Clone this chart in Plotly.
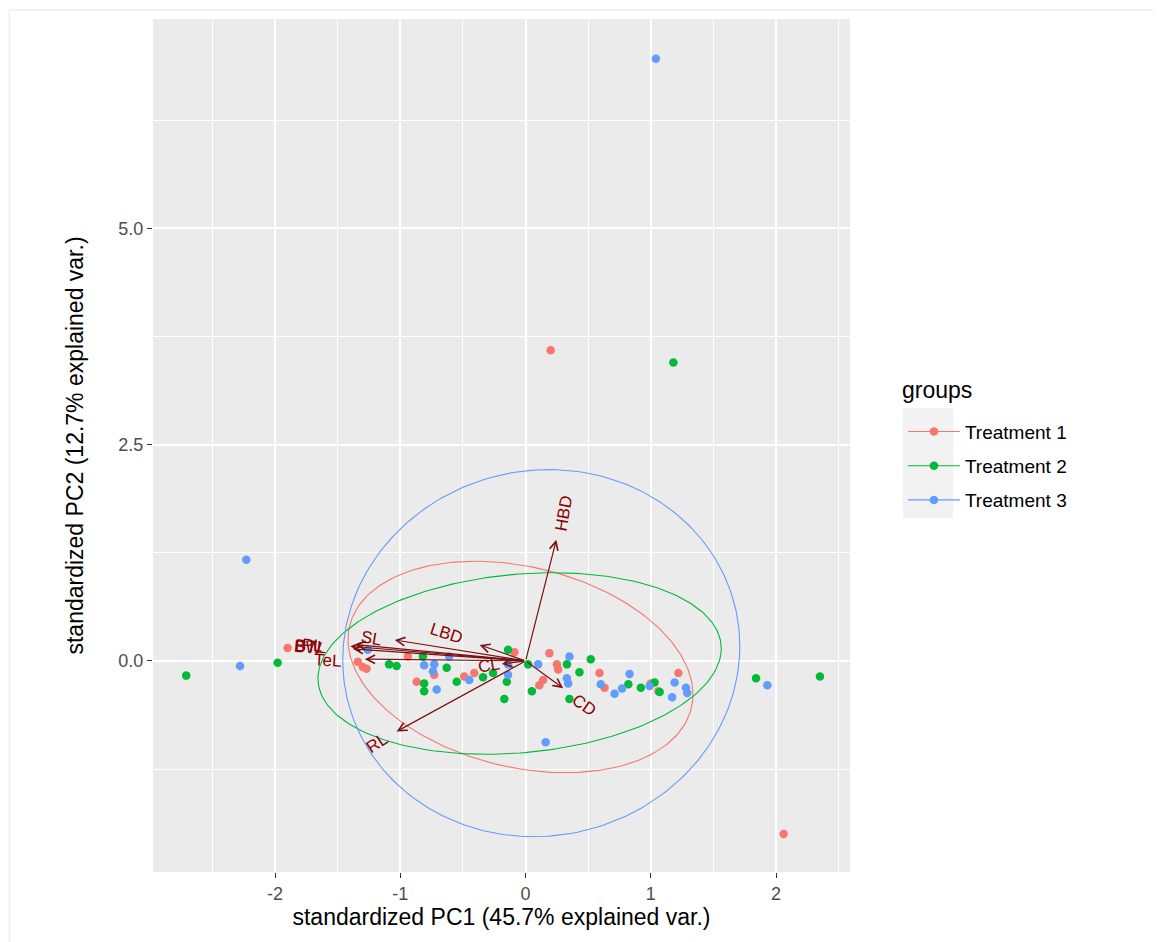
import numpy as np
import plotly.graph_objects as go

# ---------------- data ----------------
groups = ["Treatment 1", "Treatment 2", "Treatment 3"]
colors = ["#F8766D", "#00BA38", "#619CFF"]

t1_x = [0.20, 2.06, -1.90, 0.19, -0.09, -0.94, -1.34, -1.30, -1.27, -0.73, -0.87, -0.49, -0.41,
        0.25, 0.26, 0.14, 0.11, 0.59, 0.63, 1.00, 1.06, 1.22]
t1_y = [3.59, -2.00, 0.15, 0.09, 0.10, 0.05, -0.01, -0.07, -0.09, -0.16, -0.24, -0.18, -0.14,
        -0.04, -0.10, -0.22, -0.28, -0.14, -0.31, -0.26, -0.35, -0.14]

t2_x = [1.18, -2.71, -1.98, 2.35, 1.84, -0.14, -0.82, -1.09, -1.03, -0.63, -0.81, -0.81, -0.55,
        -0.34, -0.26, -0.15, -0.17, 0.02, 0.05, 0.33, 0.43, 0.52, 0.35, 0.82, 0.92, 1.03, 1.07]
t2_y = [3.45, -0.17, -0.02, -0.18, -0.20, 0.13, 0.05, -0.04, -0.06, -0.08, -0.26, -0.35, -0.24,
        -0.19, -0.14, -0.24, -0.44, -0.04, -0.35, -0.04, -0.13, 0.02, -0.44, -0.27, -0.31, -0.25, -0.36]

t3_x = [1.04, -2.23, -2.28, 1.93, 0.16, -1.26, -0.61, -0.81, -0.73, -0.74, -0.71, -0.45, -0.14,
        -0.14, 0.10, 0.35, 0.33, 0.34, 0.60, 0.71, 0.77, 0.83, 0.99, 1.17, 1.19, 1.28, 1.29]
t3_y = [6.96, 1.17, -0.06, -0.28, -0.94, 0.13, 0.05, -0.05, -0.04, -0.12, -0.33, -0.22, -0.04,
        -0.16, -0.04, 0.05, -0.20, -0.26, -0.27, -0.38, -0.32, -0.15, -0.29, -0.42, -0.25, -0.31, -0.37]

group_x = [t1_x, t2_x, t3_x]
group_y = [t1_y, t2_y, t3_y]

# ellipse parameters per group (centre, half-widths, shear)
ell_cx = [-0.041, -0.048, 0.125]
ell_cy = [-0.070, -0.030, 0.090]
ell_rx = [1.377, 1.610, 1.585]
ell_ry = [1.180, 1.035, 2.120]
ell_shear = [-0.318, 0.173, 0.080]

# variable loadings (arrow tips) and label positions
var_names = ["HBD", "LBD", "SL", "TeL", "PL", "BW", "BTL", "CL", "CD", "RL"]
var_x = [0.245, -0.367, -1.045, -1.285, -1.40, -1.38, -1.36, -0.19, 0.30, -1.03]
var_y = [1.400, 0.185, 0.242, 0.020, 0.17, 0.14, 0.19, -0.035, -0.315, -0.816]
lab_x = [0.31, -0.63, -1.23, -1.58, -1.70, -1.74, -1.72, -0.29, 0.47, -1.19]
lab_y = [1.71, 0.32, 0.26, 0.00, 0.18, 0.15, 0.17, -0.05, -0.51, -0.95]
lab_angle = [-80, 18, 10, 3, 5, 5, 5, -10, 35, -33]

x_ticks = [-2, -1, 0, 1, 2]
y_ticks = [0.0, 2.5, 5.0]
y_tick_labels = ["0.0", "2.5", "5.0"]

x_title = "standardized PC1 (45.7% explained var.)"
y_title = "standardized PC2 (12.7% explained var.)"
legend_title = "groups"

# ---------------- figure ----------------
FONT = "Liberation Sans, Arial, sans-serif"
fig = go.Figure()

tt = np.linspace(0, 2 * np.pi, 241)
for i, g in enumerate(groups):
    ex = ell_cx[i] + ell_rx[i] * np.cos(tt)
    ey = ell_cy[i] + ell_ry[i] * np.sin(tt) + ell_shear[i] * np.cos(tt)
    fig.add_trace(go.Scatter(x=ex, y=ey, mode="lines", line=dict(color=colors[i], width=1.1),
                             showlegend=False, hoverinfo="skip"))

for i, g in enumerate(groups):
    fig.add_trace(go.Scatter(x=group_x[i], y=group_y[i], mode="markers", name=g,
                             marker=dict(color=colors[i], size=8.5, line=dict(width=0)),
                             showlegend=False))

# legend keys (line + point, like ggplot)
for i, g in enumerate(groups):
    fig.add_trace(go.Scatter(x=[None], y=[None], mode="lines+markers", name=g,
                             legendgroup=g,
                             line=dict(color=colors[i], width=1.1),
                             marker=dict(color=colors[i], size=8.5)))

annotations = []
for i, v in enumerate(var_names):
    annotations.append(dict(x=var_x[i], y=var_y[i], ax=0, ay=0, xref="x", yref="y",
                            axref="x", ayref="y", text="", showarrow=True,
                            arrowhead=5, arrowsize=1.4, arrowwidth=1.2,
                            arrowcolor="#7A1010"))
for i, v in enumerate(var_names):
    annotations.append(dict(x=lab_x[i], y=lab_y[i], xref="x", yref="y", text=v,
                            showarrow=False, textangle=lab_angle[i],
                            font=dict(family=FONT, size=17, color="#8B0000")))
annotations.append(dict(x=1.0717, y=0.565, xref="paper", yref="paper", text=legend_title,
                        showarrow=False, xanchor="left", yanchor="middle",
                        font=dict(family=FONT, size=23, color="black")))

fig.update_layout(
    width=1153, height=934,
    margin=dict(l=145, r=311, t=11, b=70),
    paper_bgcolor="white",
    plot_bgcolor="#EBEBEB",
    font=dict(family=FONT),
    annotations=annotations,
    showlegend=True,
    legend=dict(
        font=dict(family=FONT, size=19, color="black"),
        x=1.076, y=0.5385, xanchor="left", yanchor="top",
        bgcolor="rgba(0,0,0,0)", tracegroupgap=6.5, itemwidth=52,
    ),
    shapes=[
        dict(type="rect", xref="paper", yref="paper", x0=1.076, x1=1.148, y0=0.415, y1=0.544,
             fillcolor="#F2F2F2", line=dict(width=0), layer="below"),
        dict(type="rect", xref="paper", yref="paper", x0=-0.206, x1=1.445, y0=-0.2, y1=1.0105,
             fillcolor="rgba(0,0,0,0)", line=dict(color="#EEEEE2", width=1.5), layer="below"),
    ],
)

fig.update_xaxes(
    range=[-2.975, 2.59], tickvals=x_ticks, ticktext=[str(v) for v in x_ticks],
    showgrid=True, gridcolor="white", gridwidth=1.8, zeroline=False,
    minor=dict(tick0=-2.5, dtick=1, showgrid=True, gridcolor="white", gridwidth=0.9),
    ticks="outside", ticklen=5, tickwidth=1.3, tickcolor="#333333",
    tickfont=dict(family=FONT, size=18, color="#4D4D4D"),
    title=dict(text=x_title, font=dict(family=FONT, size=23, color="black"), standoff=4),
    showline=False,
)
fig.update_yaxes(
    range=[-2.44, 7.42], tickvals=y_ticks, ticktext=y_tick_labels,
    showgrid=True, gridcolor="white", gridwidth=1.8, zeroline=False,
    minor=dict(tick0=-1.25, dtick=2.5, showgrid=True, gridcolor="white", gridwidth=0.9),
    ticks="outside", ticklen=5, tickwidth=1.3, tickcolor="#333333",
    tickfont=dict(family=FONT, size=18, color="#4D4D4D"),
    title=dict(text=y_title, font=dict(family=FONT, size=23, color="black"), standoff=28),
    showline=False,
)

fig.write_html("out.html")
